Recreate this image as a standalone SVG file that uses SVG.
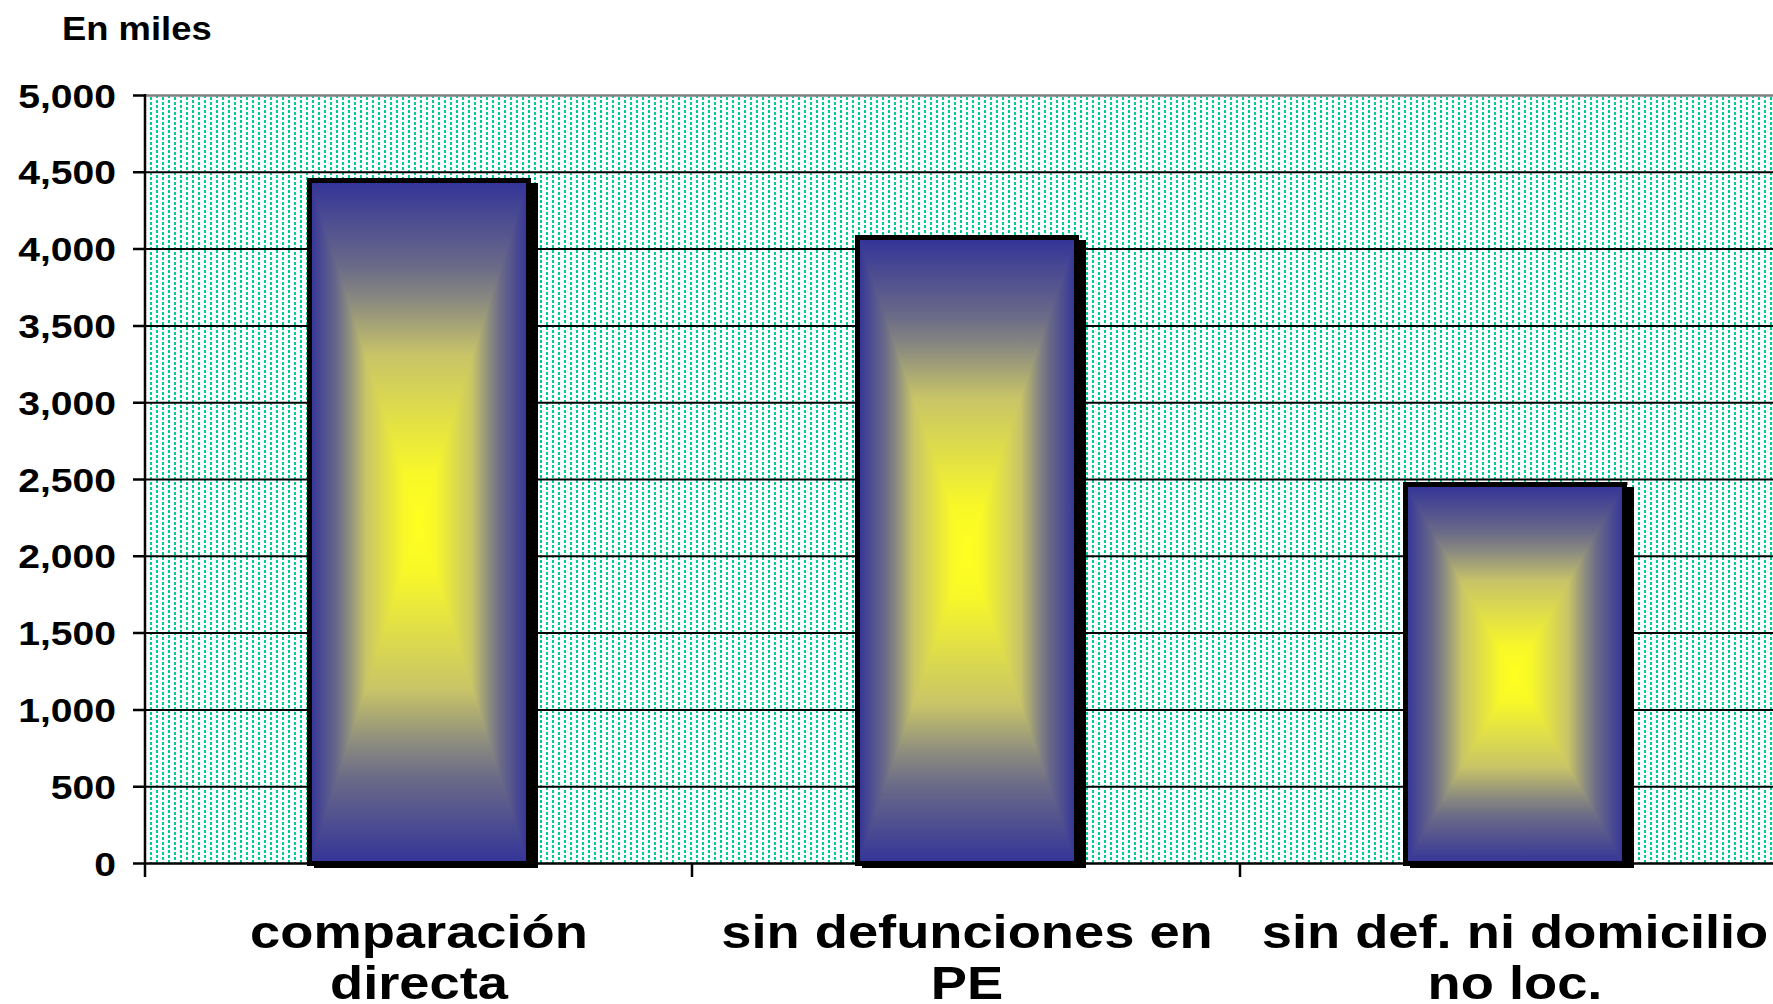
<svg xmlns="http://www.w3.org/2000/svg" width="1773" height="1004" viewBox="0 0 1773 1004">
<style>
.grid{stroke:#000;stroke-width:2;fill:none}
.axis{stroke:#000;stroke-width:2.5;fill:none}
.lbl{font-family:"Liberation Sans",Arial,sans-serif;font-weight:bold;fill:#000}
.ylab{font-size:34px;text-anchor:end}
.cat{font-size:46px;text-anchor:middle}
.border{fill:none;stroke:#000;stroke-width:5}
</style>
<defs>
<pattern id="dots" patternUnits="userSpaceOnUse" x="0" y="0" width="12" height="10">
<rect width="12" height="10" fill="#fff"/>
<rect x="0" y="0" width="2" height="3" fill="#00CC99"/>
<rect x="0" y="5" width="2" height="3" fill="#00CC99"/>
<rect x="6" y="2" width="2" height="3" fill="#00CC99"/>
<rect x="6" y="7" width="2" height="3" fill="#00CC99"/>
</pattern>
<linearGradient id="gV" x1="0" y1="0" x2="0" y2="1">
<stop offset="0" stop-color="#333399"/>
<stop offset="0.125" stop-color="#6a6a88"/>
<stop offset="0.175" stop-color="#8a8a80"/>
<stop offset="0.255" stop-color="#c8c468"/>
<stop offset="0.43" stop-color="#f8f828"/>
<stop offset="0.5" stop-color="#ffff20"/>
<stop offset="0.57" stop-color="#f8f828"/>
<stop offset="0.745" stop-color="#c8c468"/>
<stop offset="0.825" stop-color="#8a8a80"/>
<stop offset="0.875" stop-color="#6a6a88"/>
<stop offset="1" stop-color="#333399"/>
</linearGradient>
<linearGradient id="gL" x1="0" y1="0" x2="1" y2="0">
<stop offset="0" stop-color="#333399"/>
<stop offset="0.25" stop-color="#6a6a88"/>
<stop offset="0.35" stop-color="#8a8a80"/>
<stop offset="0.51" stop-color="#c8c468"/>
<stop offset="0.86" stop-color="#f8f828"/>
<stop offset="1" stop-color="#ffff20"/>
</linearGradient>
<linearGradient id="gR" x1="0" y1="0" x2="1" y2="0">
<stop offset="0" stop-color="#ffff20"/>
<stop offset="0.14" stop-color="#f8f828"/>
<stop offset="0.49" stop-color="#c8c468"/>
<stop offset="0.65" stop-color="#8a8a80"/>
<stop offset="0.75" stop-color="#6a6a88"/>
<stop offset="1" stop-color="#333399"/>
</linearGradient>
</defs>
<rect width="1773" height="1004" fill="#fff"/>
<g id="plot-area">
<rect x="145" y="95" width="1628" height="768.5" fill="url(#dots)"/>
</g>
<g id="gridlines">
<line class="grid" x1="145" y1="172.3" x2="1773" y2="172.3"/>
<line class="grid" x1="145" y1="249.1" x2="1773" y2="249.1"/>
<line class="grid" x1="145" y1="325.9" x2="1773" y2="325.9"/>
<line class="grid" x1="145" y1="402.7" x2="1773" y2="402.7"/>
<line class="grid" x1="145" y1="479.5" x2="1773" y2="479.5"/>
<line class="grid" x1="145" y1="556.3" x2="1773" y2="556.3"/>
<line class="grid" x1="145" y1="633.1" x2="1773" y2="633.1"/>
<line class="grid" x1="145" y1="709.9" x2="1773" y2="709.9"/>
<line class="grid" x1="145" y1="786.7" x2="1773" y2="786.7"/>
<line x1="145" y1="95.5" x2="1773" y2="95.5" stroke="#808080" stroke-width="2.5"/>
</g>
<g id="axes">
<line class="axis" x1="145" y1="94" x2="145" y2="877"/>
<line class="axis" x1="145" y1="863.5" x2="1773" y2="863.5"/>
<path class="axis" d="M133 95.5H145M133 172.3H145M133 249.1H145M133 325.9H145M133 402.7H145M133 479.5H145M133 556.3H145M133 633.1H145M133 709.9H145M133 786.7H145M133 863.5H145"/>
<path class="axis" d="M692 863.5V877M1240 863.5V877"/>
</g>
<g id="bar-comparacion-directa">
<rect x="314" y="183" width="224" height="685" fill="#000"/>
<rect x="310" y="181" width="218" height="683" fill="url(#gV)"/>
<polygon points="310,181 419,522 310,863" fill="url(#gL)"/>
<polygon points="528,181 419,522 528,863" fill="url(#gR)"/>
<rect class="border" x="309.5" y="180.5" width="219" height="683"/>
</g>
<g id="bar-sin-defunciones-en-pe">
<rect x="862" y="240" width="224" height="628" fill="#000"/>
<rect x="858" y="238" width="218" height="626" fill="url(#gV)"/>
<polygon points="858,238 967,551 858,864" fill="url(#gL)"/>
<polygon points="1076,238 967,551 1076,864" fill="url(#gR)"/>
<rect class="border" x="857.5" y="237.5" width="219" height="626"/>
</g>
<g id="bar-sin-def-ni-domicilio">
<rect x="1410" y="487" width="224" height="381" fill="#000"/>
<rect x="1406" y="485" width="218" height="379" fill="url(#gV)"/>
<polygon points="1406,485 1515,674.5 1406,864" fill="url(#gL)"/>
<polygon points="1624,485 1515,674.5 1624,864" fill="url(#gR)"/>
<rect class="border" x="1405.5" y="484.5" width="219" height="379"/>
</g>
<g id="y-labels" class="lbl ylab">
<text transform="translate(116,107.5) scale(1.15,1)">5,000</text>
<text transform="translate(116,184.3) scale(1.15,1)">4,500</text>
<text transform="translate(116,261.1) scale(1.15,1)">4,000</text>
<text transform="translate(116,337.9) scale(1.15,1)">3,500</text>
<text transform="translate(116,414.7) scale(1.15,1)">3,000</text>
<text transform="translate(116,491.5) scale(1.15,1)">2,500</text>
<text transform="translate(116,568.3) scale(1.15,1)">2,000</text>
<text transform="translate(116,645.1) scale(1.15,1)">1,500</text>
<text transform="translate(116,721.9) scale(1.15,1)">1,000</text>
<text transform="translate(116,798.7) scale(1.15,1)">500</text>
<text transform="translate(116,875.5) scale(1.15,1)">0</text>
</g>
<g id="title" class="lbl">
<text transform="translate(62,40) scale(1.12,1)" font-size="32.5">En miles</text>
</g>
<g id="category-labels" class="lbl cat">
<text transform="translate(419,948) scale(1.18,1)">comparación</text>
<text transform="translate(419,999) scale(1.18,1)">directa</text>
<text transform="translate(967,948) scale(1.18,1)">sin defunciones en</text>
<text transform="translate(967,999) scale(1.18,1)">PE</text>
<text transform="translate(1515,948) scale(1.18,1)">sin def. ni domicilio</text>
<text transform="translate(1515,999) scale(1.18,1)">no loc.</text>
</g>
</svg>
